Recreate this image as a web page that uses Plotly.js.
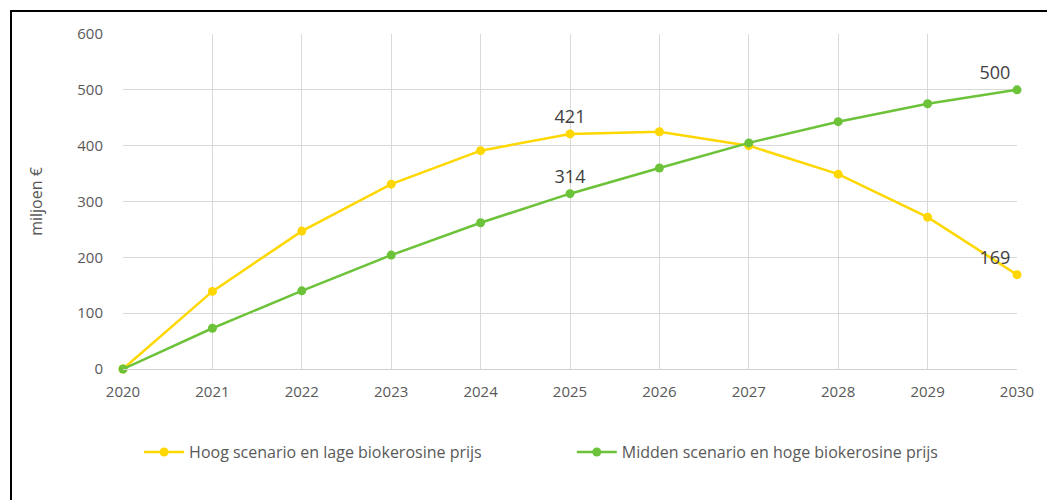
<!DOCTYPE html>
<html>
<head>
<meta charset="utf-8">
<script src="https://cdn.plot.ly/plotly-3.0.1.min.js"></script>
<style>
html,body{margin:0;padding:0;background:#fff;}
#wrap{position:absolute;left:0;top:0;width:1047px;height:500px;}
#frame{position:absolute;left:10px;top:10px;width:1037px;height:490px;border-top:2px solid #000;border-left:2px solid #000;box-sizing:border-box;pointer-events:none;}
#chart{position:absolute;left:0;top:0;width:1047px;height:500px;}
</style>
</head>
<body>
<div id="wrap"><div id="chart"></div><div id="frame"></div></div>
<script>
const years = [2020, 2021, 2022, 2023, 2024, 2025, 2026, 2027, 2028, 2029, 2030];
const hoog = [0, 139, 247, 331, 391, 421, 425, 400, 349, 272, 169];
const midden = [0, 73, 140, 204, 262, 314, 360, 405, 443, 475, 500];
const hoogLabels = ['', '', '', '', '', '421', '', '', '', '', '169'];
const middenLabels = ['', '', '', '', '', '314', '', '', '', '', '500'];
const hoogPos = ['top center','top center','top center','top center','top center','top center','top center','top center','top center','top center','top left'];
const middenPos = ['top center','top center','top center','top center','top center','top center','top center','top center','top center','top center','top left'];
const yTicks = [0, 100, 200, 300, 400, 500, 600];
const seriesNames = ['Hoog scenario en lage biokerosine prijs', 'Midden scenario en hoge biokerosine prijs'];

const font = 'Open Sans, Noto Sans, sans-serif';
const labelFont = {family: font, size: 18, color: '#404040'};
const traces = [
  {x: years, y: hoog, name: seriesNames[0], type: 'scatter', mode: 'lines+markers+text', legend: 'legend',
   line: {color: '#FFD700', width: 2.5}, marker: {color: '#FFD700', size: 9},
   text: hoogLabels, textposition: hoogPos, textfont: labelFont, cliponaxis: false},
  {x: years, y: midden, name: seriesNames[1], type: 'scatter', mode: 'lines+markers+text', legend: 'legend2',
   line: {color: '#6CC33A', width: 2.5}, marker: {color: '#6CC33A', size: 9},
   text: middenLabels, textposition: middenPos, textfont: labelFont, cliponaxis: false}
];
const legendFont = {family: font, size: 16, color: '#595959'};
const tickFont = {family: font, size: 15, color: '#595959'};
const layout = {
  width: 1047, height: 500,
  margin: {l: 123, r: 30, t: 34, b: 131},
  paper_bgcolor: '#fff', plot_bgcolor: '#fff',
  font: {family: font, size: 15, color: '#595959'},
  showlegend: true,
  legend: {orientation: 'h', x: 0.018, xanchor: 'left', y: -0.248, yanchor: 'middle',
           font: legendFont, itemwidth: 40, bgcolor: 'rgba(0,0,0,0)'},
  legend2: {orientation: 'h', x: 0.502, xanchor: 'left', y: -0.248, yanchor: 'middle',
           font: legendFont, itemwidth: 40, bgcolor: 'rgba(0,0,0,0)'},
  xaxis: {range: [2020, 2030], tickvals: years, ticktext: years.map(String), showgrid: true,
          gridcolor: '#d9d9d9', gridwidth: 1, zeroline: false, showline: true, linecolor: '#d0d0d0',
          ticks: 'outside', ticklen: 9, tickcolor: 'rgba(0,0,0,0)',
          tickfont: tickFont, fixedrange: true},
  yaxis: {range: [0, 600], tickvals: yTicks, showgrid: true, gridcolor: '#d9d9d9', gridwidth: 1,
          zeroline: false, showline: false, ticks: 'outside', ticklen: 16, tickcolor: 'rgba(0,0,0,0)',
          tickfont: tickFont,
          title: {text: 'miljoen €', font: {family: font, size: 16, color: '#595959'}, standoff: 30}},
};
Plotly.newPlot('chart', traces, layout, {displayModeBar: false, staticPlot: true});
</script>
</body>
</html>
